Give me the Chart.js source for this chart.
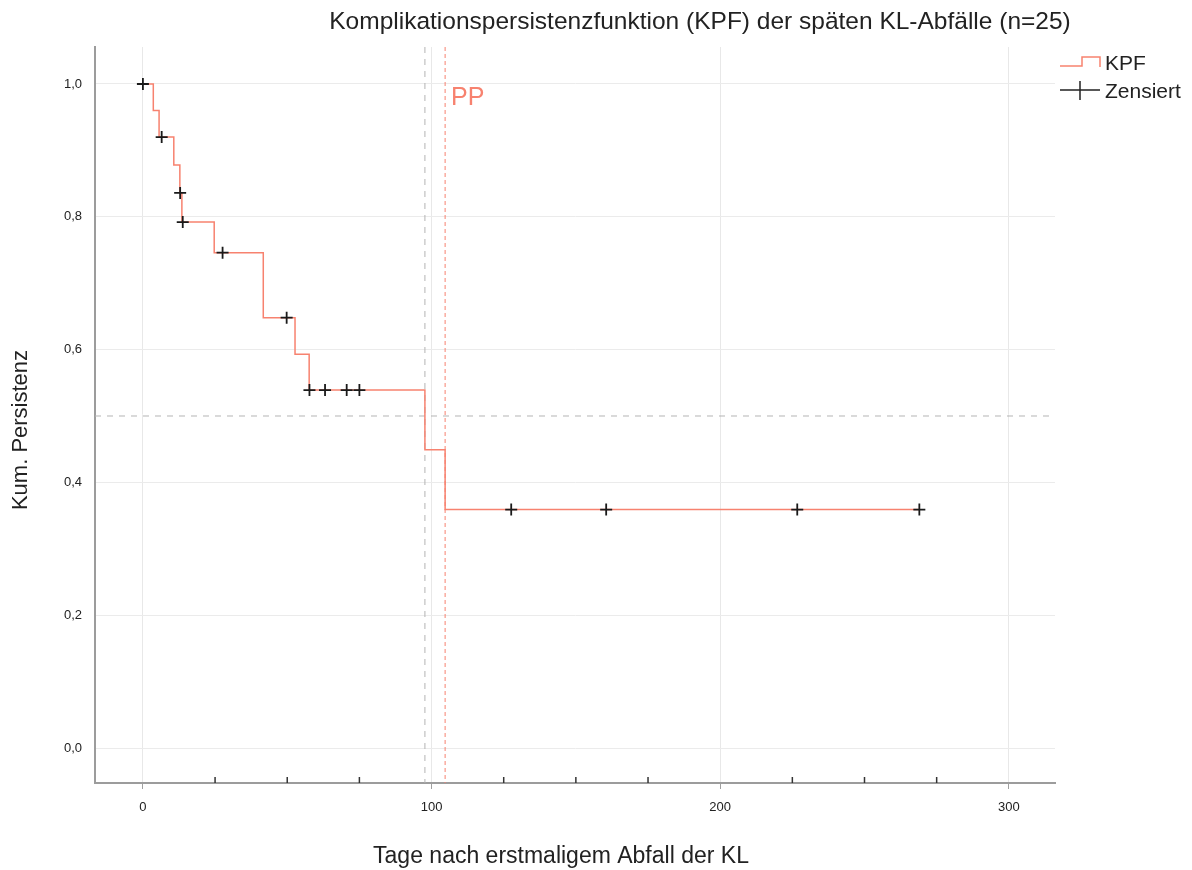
<!DOCTYPE html>
<html>
<head>
<meta charset="utf-8">
<script src="https://cdn.jsdelivr.net/npm/chart.js@4.4.1/dist/chart.umd.min.js"></script>
<style>
  body { margin: 0; background: #fff; }
  canvas { display: block; }
</style>
</head>
<body>
<canvas id="kpfChart" width="1192" height="870"></canvas>
<script>
// Kaplan-Meier Stufen (Ereigniszeitpunkte in Tagen, kum. Persistenz danach)
const eventDays = [0, 3.6, 5.6, 10.7, 12.8, 13.5, 24.7, 41.7, 52.7, 57.6, 97.7, 104.7, 269];
const persistence = [1.0, 0.96, 0.92, 0.878, 0.836, 0.792, 0.746, 0.648, 0.593, 0.539, 0.449, 0.359, 0.359];

// Zensierte Faelle
const censoredDays = [0, 6.5, 12.9, 13.8, 27.6, 49.8, 57.7, 63.1, 70.6, 75.0, 127.6, 160.5, 226.7, 269.0];
const censoredLevel = [1.0, 0.92, 0.836, 0.792, 0.746, 0.648, 0.539, 0.539, 0.539, 0.539, 0.359, 0.359, 0.359, 0.359];

// Referenzlinien
const medianLevel = 0.5;
const medianDay = 97.7;
const ppDay = 104.7;

// Achsen
const xTicks = [0, 25, 50, 75, 100, 125, 150, 175, 200, 225, 250, 275, 300];
const yTicks = [0, 0.2, 0.4, 0.6, 0.8, 1.0];

const salmon = '#f7826f';
const textColor = '#222';
const fontFamily = '"Liberation Sans", Arial, sans-serif';

const refLines = {
    id: 'refLines',
    beforeDatasetsDraw(chart) {
        const { ctx, chartArea, scales } = chart;
        ctx.save();
        // Median-Linie horizontal
        let y = scales.y.getPixelForValue(medianLevel);
        ctx.strokeStyle = '#b4b4b4';
        ctx.lineWidth = 1;
        ctx.setLineDash([6, 6]);
        ctx.beginPath();
        ctx.moveTo(chartArea.left, y);
        ctx.lineTo(chartArea.right, y);
        ctx.stroke();
        // Median-Zeit vertikal
        let x = scales.x.getPixelForValue(medianDay);
        ctx.beginPath();
        ctx.moveTo(x, chartArea.top);
        ctx.lineTo(x, chartArea.bottom);
        ctx.stroke();
        // PP
        x = scales.x.getPixelForValue(ppDay);
        ctx.strokeStyle = salmon;
        ctx.setLineDash([4, 3]);
        ctx.beginPath();
        ctx.moveTo(x, chartArea.top);
        ctx.lineTo(x, chartArea.bottom);
        ctx.stroke();
        ctx.setLineDash([]);
        ctx.fillStyle = salmon;
        ctx.font = '25px ' + fontFamily;
        ctx.textBaseline = 'middle';
        ctx.textAlign = 'left';
        ctx.fillText('PP', x + 6, scales.y.getPixelForValue(1.0) + 14);
        ctx.restore();
    },
    afterDraw(chart) {
        const { ctx, chartArea, scales } = chart;
        ctx.save();
        // kleine Striche an der x-Achse
        ctx.strokeStyle = '#333';
        ctx.lineWidth = 1.5;
        xTicks.forEach(v => {
            if (v % 100 === 0) return;
            const x = scales.x.getPixelForValue(v);
            ctx.beginPath();
            ctx.moveTo(x, chartArea.bottom);
            ctx.lineTo(x, chartArea.bottom - 6);
            ctx.stroke();
        });

        ctx.fillStyle = textColor;
        ctx.textBaseline = 'middle';
        ctx.textAlign = 'center';

        // Titel
        ctx.font = '24.5px ' + fontFamily;
        ctx.fillText('Komplikationspersistenzfunktion (KPF) der späten KL-Abfälle (n=25)', 700, 22);

        // Achsentitel
        ctx.font = '23px ' + fontFamily;
        ctx.fillText('Tage nach erstmaligem Abfall der KL', 561, 857);
        ctx.save();
        ctx.translate(21, 430);
        ctx.rotate(-Math.PI / 2);
        ctx.font = '22px ' + fontFamily;
        ctx.fillText('Kum. Persistenz', 0, 0);
        ctx.restore();

        // Legende
        const lx = 1060;
        ctx.strokeStyle = salmon;
        ctx.lineWidth = 1.5;
        ctx.beginPath();
        ctx.moveTo(lx, 66);
        ctx.lineTo(lx + 22, 66);
        ctx.lineTo(lx + 22, 57);
        ctx.lineTo(lx + 40, 57);
        ctx.lineTo(lx + 40, 67);
        ctx.stroke();
        ctx.strokeStyle = '#222';
        ctx.beginPath();
        ctx.moveTo(lx, 90);
        ctx.lineTo(lx + 40, 90);
        ctx.moveTo(lx + 20, 81);
        ctx.lineTo(lx + 20, 100);
        ctx.stroke();
        ctx.font = '21px ' + fontFamily;
        ctx.textAlign = 'left';
        ctx.fillText('KPF', lx + 45, 64);
        ctx.fillText('Zensiert', lx + 45, 92);
        ctx.restore();
    }
};

new Chart(document.getElementById('kpfChart'), {
    type: 'scatter',
    data: {
        datasets: [
            {
                label: 'Zensiert',
                data: censoredDays.map((d, i) => ({ x: d, y: censoredLevel[i] })),
                pointStyle: 'cross',
                pointRadius: 6,
                pointHoverRadius: 6,
                borderColor: '#1a1a1a',
                borderWidth: 1.8,
                showLine: false,
                order: 0
            },
            {
                label: 'KPF',
                data: eventDays.map((d, i) => ({ x: d, y: persistence[i] })),
                showLine: true,
                stepped: 'before',
                borderColor: salmon,
                borderWidth: 1.5,
                pointRadius: 0,
                fill: false,
                order: 1
            }
        ]
    },
    options: {
        responsive: false,
        animation: false,
        layout: {
            padding: { top: 47, right: 137, left: 0, bottom: 0 }
        },
        plugins: {
            legend: { display: false },
            tooltip: { enabled: false },
            title: { display: false }
        },
        scales: {
            x: {
                type: 'linear',
                min: -16.6,
                max: 316,
                afterBuildTicks: scale => { scale.ticks = xTicks.map(v => ({ value: v })); },
                afterFit: scale => { scale.height = 87; },
                border: { color: '#9c9c9c', width: 2 },
                grid: {
                    color: c => (c.tick && c.tick.value % 100 === 0) ? '#e8e8e8' : 'rgba(0,0,0,0)',
                    tickColor: c => (c.tick && c.tick.value % 100 === 0) ? '#a0a0a0' : 'rgba(0,0,0,0)',
                    tickLength: 6
                },
                ticks: {
                    autoSkip: false,
                    maxRotation: 0,
                    padding: 11,
                    color: textColor,
                    font: { family: fontFamily, size: 13 },
                    callback: v => (v % 100 === 0 ? String(v) : '')
                }
            },
            y: {
                type: 'linear',
                min: -0.0527,
                max: 1.0557,
                afterBuildTicks: scale => { scale.ticks = yTicks.map(v => ({ value: v })); },
                afterFit: scale => { scale.width = 95; },
                border: { color: '#9c9c9c', width: 2 },
                grid: {
                    color: '#ebebeb',
                    drawTicks: false
                },
                ticks: {
                    padding: 13,
                    color: textColor,
                    font: { family: fontFamily, size: 13 },
                    callback: v => v.toFixed(1).replace('.', ',')
                }
            }
        }
    },
    plugins: [refLines]
});
</script>
</body>
</html>
